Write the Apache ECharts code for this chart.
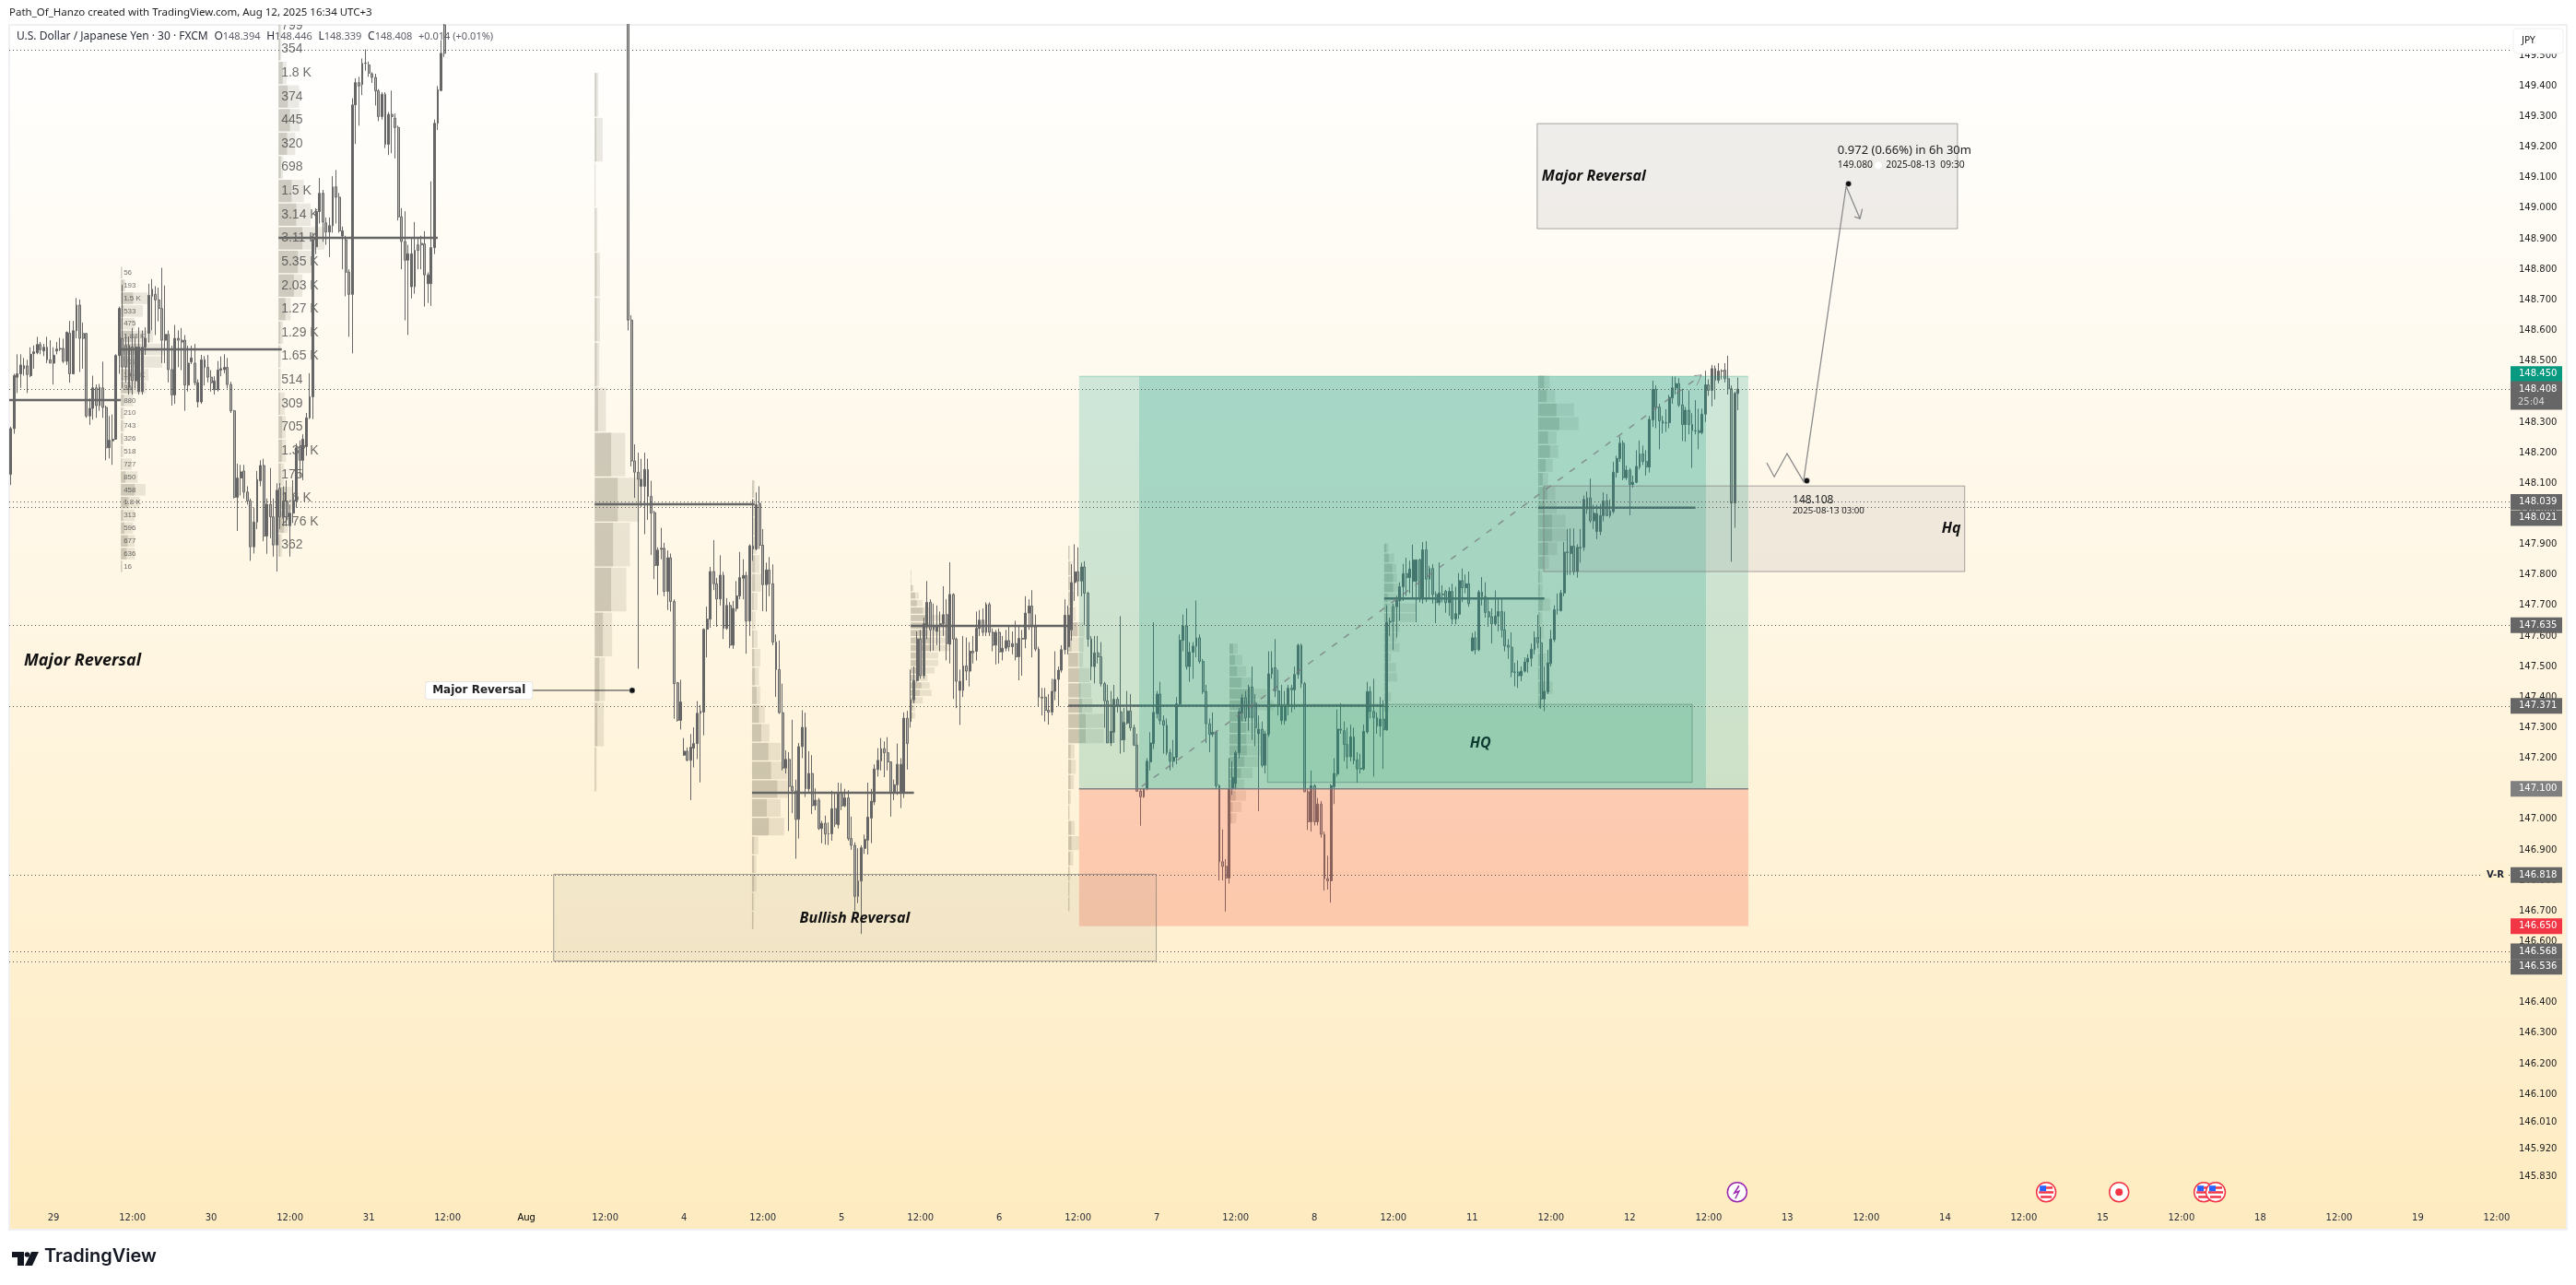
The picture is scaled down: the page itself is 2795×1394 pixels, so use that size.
<!DOCTYPE html>
<html>
<head>
<meta charset="utf-8">
<title>USDJPY 30</title>
<style>html,body{margin:0;padding:0;background:#fff}#chart{width:2795px;height:1394px}</style>
<script src="https://cdn.jsdelivr.net/npm/echarts@6/dist/echarts.min.js"></script>
</head>
<body>
<div id="chart"></div>
<script>
// rows are [open, close, low, high]
var barsJul29to31 = [
[148.129,148.279,148.094,148.285],[148.279,148.452,148.262,148.458],[148.447,148.458,148.395,148.522],[148.458,148.487,148.412,148.522],
[148.485,148.475,148.452,148.510],[148.484,148.456,148.395,148.504],[148.452,148.522,148.447,148.545],[148.524,148.530,148.475,148.551],
[148.527,148.554,148.522,148.579],[148.554,148.537,148.522,148.562],[148.533,148.545,148.516,148.556],[148.545,148.504,148.493,148.579],
[148.504,148.493,148.493,148.568],[148.493,148.519,148.423,148.545],[148.533,148.539,148.522,148.562],[148.539,148.541,148.533,148.576],
[148.541,148.499,148.493,148.573],[148.499,148.594,148.487,148.597],[148.591,148.458,148.429,148.631],[148.458,148.599,148.458,148.631],
[148.599,148.683,148.574,148.706],[148.683,148.574,148.464,148.701],[148.590,148.574,148.475,148.626],[148.590,148.320,148.314,148.591],
[148.320,148.345,148.291,148.377],[148.345,148.412,148.308,148.452],[148.412,148.354,148.314,148.423],[148.354,148.414,148.337,148.425],
[148.412,148.348,148.314,148.498],[148.348,148.216,148.175,148.354],[148.216,148.241,148.181,148.320],[148.239,148.244,148.160,148.325],
[148.244,148.518,148.244,148.522],[148.518,148.672,148.458,148.678],[148.574,148.481,148.412,148.749],[148.551,148.481,148.429,148.585],
[148.412,148.551,148.390,148.580],[148.545,148.435,148.390,148.608],[148.435,148.545,148.410,148.580],[148.400,148.545,148.390,148.610],
[148.400,148.545,148.390,148.600],[148.545,148.574,148.520,148.610],[148.591,148.715,148.560,148.753],[148.735,148.712,148.600,148.768],
[148.718,148.700,148.585,148.745],[148.700,148.672,148.630,148.740],[148.672,148.568,148.493,148.805],[148.568,148.587,148.493,148.747],
[148.587,148.472,148.430,148.600],[148.472,148.389,148.354,148.550],[148.389,148.574,148.360,148.618],[148.574,148.568,148.480,148.600],
[148.568,148.562,148.470,148.608],[148.568,148.421,148.337,148.585],[148.421,148.493,148.400,148.550],[148.497,148.510,148.490,148.550],
[148.493,148.429,148.420,148.556],[148.366,148.429,148.348,148.440],[148.366,148.504,148.360,148.520],[148.504,148.479,148.420,148.516],
[148.479,148.447,148.430,148.520],[148.447,148.429,148.400,148.470],[148.406,148.435,148.390,148.450],[148.406,148.470,148.400,148.500],
[148.470,148.475,148.450,148.515],[148.472,148.479,148.460,148.522],[148.479,148.423,148.410,148.510],[148.423,148.337,148.330,148.432],
[148.337,148.054,148.050,148.340],[148.054,148.117,147.944,148.164],[148.117,148.137,148.060,148.160],[148.140,148.071,148.050,148.160],
[148.071,148.042,148.030,148.090],[148.042,147.892,147.846,148.050],[147.892,147.973,147.870,148.020],[147.973,148.112,147.950,148.140],
[148.108,148.158,148.090,148.175],[148.158,147.927,147.910,148.180],[147.927,148.031,147.869,148.050],[148.031,147.990,147.920,148.150],
[147.990,147.898,147.860,148.050],[147.898,148.077,147.811,148.100],[148.083,147.990,147.950,148.100],[147.990,148.040,147.960,148.090],
[148.040,147.990,147.960,148.110],[147.961,148.002,147.860,148.030],[148.002,148.042,147.970,148.110],[148.042,148.216,148.020,148.230],
[148.220,148.175,148.120,148.240],[148.175,148.244,148.110,148.260],[148.220,148.314,148.190,148.330],[148.314,148.383,148.310,148.460],
[148.383,148.897,148.310,148.920],[148.874,148.989,148.850,149.000],[148.989,149.049,148.950,149.099],[149.049,148.955,148.890,149.060],
[148.952,148.922,148.880,148.970],[148.922,148.943,148.840,148.970],[148.943,149.070,148.920,149.105],[149.070,149.036,148.950,149.125],
[149.036,148.926,148.920,149.050],[148.909,148.926,148.800,148.940],[148.897,148.791,148.712,148.910],[148.791,148.718,148.579,148.800],
[148.718,149.338,148.525,149.360],[149.338,149.411,149.210,149.425],[149.411,149.400,149.270,149.430],[149.405,149.474,149.370,149.490],
[149.474,149.475,149.450,149.520],[149.469,149.442,149.430,149.480],[149.440,149.428,149.410,149.445],[149.428,149.384,149.336,149.440],
[149.384,149.300,149.285,149.390],[149.300,149.373,149.290,149.380],[149.373,149.209,149.197,149.380],[149.209,149.307,149.174,149.315],
[149.307,149.300,149.180,149.385],[149.295,149.264,149.163,149.310],[149.264,148.972,148.960,149.270],[148.972,148.891,148.800,149.000],
[148.891,148.830,148.633,148.990],[148.830,148.851,148.585,148.880],[148.743,148.851,148.705,148.900],[148.743,148.862,148.720,148.955],
[148.880,148.862,148.800,148.905],[148.885,148.880,148.800,148.910],[148.883,148.782,148.678,148.925],[148.753,148.782,148.690,148.790],
[148.753,148.871,148.680,149.088],[148.871,149.278,148.850,149.290],[149.278,149.388,149.256,149.400],[149.385,149.507,149.385,149.550],
[149.600,149.507,149.495,149.700]
];
// bars from Jul 31 to the Aug 1 drop are all above the visible price range
var hiddenBarCount = 55;
var barsAug1to6 = [
[150.200,148.634,148.600,150.300],[148.634,148.173,148.155,148.650],[148.173,148.136,148.052,148.227],[148.136,148.113,147.493,148.200],
[148.090,148.113,148.022,148.180],[148.090,148.145,147.933,148.200],[148.145,148.057,147.980,148.180],[148.057,148.002,147.865,148.108],
[148.004,147.831,147.786,148.010],[147.831,147.881,147.734,147.890],[147.884,147.887,147.851,147.954],[147.887,147.746,147.730,147.905],
[147.746,147.856,147.685,147.880],[147.856,147.713,147.680,147.870],[147.713,147.444,147.329,147.720],[147.447,147.324,147.320,147.450],
[147.324,147.384,147.294,147.457],[147.210,147.223,147.208,147.266],[147.223,147.193,147.190,147.235],[147.193,147.236,147.063,147.279],
[147.233,147.248,147.170,147.301],[147.248,147.347,147.197,147.387],[147.347,147.354,147.121,147.374],[147.351,147.622,147.275,147.625],
[147.622,147.655,147.530,147.696],[147.655,147.811,147.627,147.826],[147.811,147.771,147.750,147.914],[147.771,147.721,147.630,147.790],
[147.721,147.799,147.700,147.864],[147.799,147.625,147.590,147.810],[147.625,147.700,147.620,147.724],[147.700,147.570,147.560,147.711],
[147.570,147.690,147.558,147.715],[147.690,147.731,147.680,147.780],[147.731,147.791,147.720,147.875],[147.789,147.798,147.720,147.851],
[147.798,147.649,147.542,147.810],[147.649,147.895,147.600,147.900],[147.895,147.885,147.846,148.047],[147.885,148.030,147.880,148.070],
[148.034,147.897,147.885,148.090],[147.897,147.768,147.681,147.950],[147.768,147.816,147.680,147.840],[147.816,147.771,147.730,147.858],
[147.771,147.580,147.570,147.834],[147.580,147.490,147.401,147.605],[147.490,147.349,147.345,147.585],[147.349,147.168,147.160,147.444],
[147.168,147.196,147.150,147.226],[147.196,147.108,146.962,147.220],[147.108,147.093,147.020,147.326],[147.093,147.000,146.871,147.130],
[147.000,147.238,146.937,147.250],[147.238,147.301,147.200,147.357],[147.301,147.100,147.073,147.349],[147.100,147.150,147.090,147.223],
[147.150,147.045,147.017,147.210],[147.045,147.063,147.030,147.101],[147.063,146.970,146.965,147.070],[146.970,146.987,146.922,146.995],
[146.987,146.952,146.917,147.012],[146.953,146.952,146.916,146.990],[146.953,147.035,146.930,147.093],[147.035,146.985,146.975,147.090],
[146.982,147.088,146.970,147.120],[147.088,147.044,147.030,147.118],[147.044,147.070,147.040,147.100],[147.070,146.937,146.930,147.095],
[146.937,146.915,146.900,147.009],[146.915,146.748,146.701,146.925],[146.748,146.798,146.726,146.905],[146.798,146.907,146.625,146.915],
[146.905,146.934,146.887,146.950],[146.932,147.007,146.885,147.120],[147.004,147.059,146.922,147.100],[147.057,147.165,147.047,147.180],
[147.163,147.193,147.140,147.233],[147.191,147.231,147.160,147.266],[147.231,147.218,147.138,147.255],[147.218,147.188,147.160,147.269],
[147.188,147.088,147.009,147.190],[147.088,147.113,147.063,147.130],[147.113,147.180,147.080,147.248],[147.090,147.180,147.037,147.200],
[147.088,147.331,147.070,147.350],[147.331,147.248,147.163,147.355],[147.320,147.391,147.300,147.490],[147.391,147.454,147.380,147.500],
[147.454,147.590,147.450,147.615],[147.590,147.470,147.460,147.620],[147.470,147.640,147.460,147.660],[147.630,147.710,147.590,147.780],
[147.710,147.620,147.550,147.720],[147.620,147.630,147.552,147.706],[147.615,147.635,147.570,147.700],[147.635,147.640,147.550,147.680],
[147.640,147.670,147.600,147.763],[147.670,147.575,147.520,147.720],[147.573,147.736,147.510,147.841],[147.736,147.590,147.394,147.740],
[147.590,147.452,147.364,147.595],[147.422,147.452,147.309,147.490],[147.422,147.502,147.400,147.600],[147.502,147.485,147.455,147.595],
[147.485,147.550,147.435,147.580],[147.550,147.545,147.510,147.600],[147.550,147.625,147.520,147.680],[147.625,147.652,147.600,147.685],
[147.652,147.612,147.600,147.690],[147.612,147.703,147.600,147.710],[147.703,147.612,147.600,147.710],[147.612,147.570,147.550,147.625],
[147.570,147.612,147.507,147.620],[147.612,147.548,147.510,147.625],[147.548,147.560,147.520,147.600],[147.560,147.585,147.550,147.620],
[147.585,147.565,147.550,147.630],[147.565,147.575,147.540,147.615],[147.575,147.532,147.520,147.650],[147.532,147.592,147.455,147.630],
[147.590,147.592,147.470,147.620],[147.590,147.675,147.560,147.730],[147.675,147.698,147.620,147.720],[147.698,147.630,147.530,147.750],
[147.630,147.557,147.550,147.670],[147.557,147.400,147.369,147.565],[147.400,147.397,147.340,147.430],[147.400,147.357,147.320,147.430],
[147.357,147.351,147.310,147.410],[147.351,147.419,147.340,147.460],[147.419,147.458,147.390,147.550],[147.458,147.488,147.370,147.500],
[147.488,147.555,147.480,147.570],[147.555,147.668,147.540,147.720]
];
var barsAug6to8 = [
[147.565,147.668,147.540,147.700],[147.620,147.775,147.585,147.835],[147.775,147.810,147.715,147.900],[147.810,147.780,147.730,147.890],
[147.780,147.826,147.730,147.840],[147.826,147.740,147.635,147.845],[147.740,147.590,147.565,147.745],[147.590,147.500,147.455,147.600],
[147.500,147.545,147.445,147.600],[147.545,147.532,147.510,147.600],[147.532,147.444,147.435,147.580],[147.444,147.388,147.300,147.450],
[147.388,147.250,147.250,147.440],[147.250,147.288,147.240,147.420],[147.285,147.393,147.250,147.440],[147.393,147.370,147.350,147.400],
[147.352,147.260,147.215,147.665],[147.260,147.317,147.220,147.365],[147.315,147.355,147.310,147.420],[147.355,147.300,147.290,147.410],
[147.300,147.243,147.240,147.310],[147.243,147.092,147.090,147.280],[147.092,147.074,146.979,147.100],[147.074,147.100,147.070,147.100],
[147.100,147.190,147.095,147.200],[147.188,147.250,147.160,147.285],[147.248,147.350,147.230,147.645],[147.346,147.410,147.330,147.420],
[147.410,147.323,147.310,147.450],[147.323,147.308,147.215,147.340],[147.308,147.218,147.210,147.330],[147.218,147.190,147.160,147.230],
[147.190,147.203,147.170,147.260],[147.203,147.378,147.180,147.400],[147.378,147.586,147.370,147.605],[147.586,147.633,147.550,147.670],
[147.633,147.500,147.490,147.690],[147.500,147.547,147.450,147.580],[147.547,147.567,147.460,147.580],[147.567,147.594,147.530,147.716],
[147.594,147.517,147.510,147.605],[147.517,147.418,147.410,147.525],[147.418,147.313,147.250,147.440],[147.313,147.278,147.220,147.330],
[147.278,147.285,147.270,147.350],[147.285,147.110,147.100,147.290],[147.110,146.861,146.800,147.115],[146.861,146.846,146.800,146.967],
[146.846,146.808,146.698,146.870],[146.808,147.100,146.790,147.200],[147.100,147.137,147.080,147.190],[147.117,147.218,147.100,147.225],
[147.218,147.353,147.200,147.365],[147.348,147.398,147.320,147.410],[147.398,147.333,147.320,147.420],[147.333,147.433,147.290,147.440],
[147.433,147.333,147.260,147.500],[147.380,147.300,147.240,147.410],[147.280,147.295,147.027,147.340],[147.295,147.177,147.170,147.320],
[147.177,147.280,147.150,147.290],[147.278,147.476,147.270,147.550],[147.476,147.496,147.460,147.550],[147.496,147.420,147.400,147.590],
[147.420,147.371,147.340,147.490],[147.323,147.371,147.310,147.440],[147.323,147.371,147.310,147.420],[147.371,147.429,147.340,147.440],
[147.429,147.424,147.350,147.440],[147.424,147.474,147.360,147.500],[147.474,147.570,147.460,147.575],[147.570,147.444,147.430,147.575],
[147.444,147.090,147.090,147.450],[147.090,146.992,146.965,147.100],[146.992,147.110,146.960,147.160],[147.110,146.992,146.980,147.115],
[146.992,147.050,146.980,147.070],[147.050,146.951,146.940,147.060],[146.951,146.806,146.767,146.960],[146.806,146.799,146.770,146.881],
[146.799,147.110,146.727,147.115],[147.107,147.150,147.050,147.200],[147.148,147.295,147.140,147.360],[147.295,147.292,147.280,147.380],
[147.290,147.245,147.190,147.320],[147.245,147.205,147.165,147.300],[147.205,147.270,147.190,147.310],[147.270,147.192,147.180,147.300],
[147.195,147.165,147.120,147.220],[147.165,147.167,147.150,147.215],[147.165,147.288,147.160,147.310],[147.286,147.418,147.280,147.450],
[147.418,147.353,147.330,147.435],[147.353,147.333,147.140,147.460],[147.333,147.305,147.280,147.350],[147.305,147.328,147.270,147.400],
[147.328,147.293,147.165,147.390],[147.293,147.645,147.290,147.700],[147.645,147.648,147.600,147.660]
];
var barsAug8to12 = [
[147.696,147.648,147.555,147.706],[147.696,147.716,147.595,147.731],[147.716,147.761,147.650,147.776],[147.761,147.804,147.715,147.836],
[147.804,147.791,147.731,147.856],[147.791,147.819,147.740,147.846],[147.779,147.849,147.721,147.899],[147.779,147.849,147.645,147.851],
[147.849,147.723,147.710,147.853],[147.723,147.882,147.706,147.907],[147.882,147.786,147.711,147.910],[147.786,147.821,147.720,147.830],
[147.821,147.736,147.706,147.835],[147.736,147.709,147.642,147.746],[147.709,147.741,147.700,147.841],[147.737,147.735,147.710,147.766],
[147.746,147.709,147.676,147.751],[147.709,147.746,147.666,147.760],[147.746,147.656,147.638,147.771],[147.656,147.673,147.638,147.761],
[147.671,147.781,147.656,147.806],[147.781,147.758,147.711,147.821],[147.758,147.771,147.740,147.801],[147.771,147.706,147.696,147.811],
[147.552,147.594,147.550,147.610],[147.594,147.555,147.540,147.615],[147.555,147.744,147.550,147.751],[147.744,147.729,147.700,147.793],
[147.729,147.677,147.660,147.776],[147.679,147.663,147.630,147.720],[147.663,147.640,147.575,147.690],[147.640,147.665,147.635,147.749],
[147.665,147.680,147.615,147.721],[147.680,147.620,147.595,147.726],[147.620,147.568,147.550,147.680],[147.570,147.563,147.525,147.590],
[147.563,147.482,147.465,147.612],[147.482,147.481,147.435,147.512],[147.482,147.470,147.430,147.520],[147.470,147.485,147.452,147.500],
[147.485,147.515,147.480,147.530],[147.515,147.527,147.480,147.540],[147.527,147.557,147.500,147.575],[147.555,147.595,147.540,147.615],
[147.595,147.578,147.560,147.669],[147.578,147.394,147.362,147.630],[147.394,147.419,147.354,147.500],[147.417,147.512,147.410,147.555],
[147.510,147.590,147.500,147.620],[147.588,147.686,147.580,147.700],[147.686,147.685,147.670,147.739],[147.683,147.741,147.680,147.751],
[147.741,147.874,147.730,147.907],[147.873,147.875,147.800,147.950],[147.870,147.894,147.800,147.952],[147.894,147.811,147.800,147.952],
[147.811,147.890,147.791,147.900],[147.888,147.890,147.840,147.950],[147.890,148.047,147.879,148.060],[148.015,148.052,148.000,148.073],
[148.052,147.977,147.970,148.115],[147.977,148.002,147.950,148.030],[147.942,148.000,147.917,148.030],[147.942,147.994,147.930,148.032],
[147.994,148.042,147.975,148.070],[148.042,147.994,147.992,148.065],[147.994,148.009,147.987,148.047],[148.007,148.136,148.000,148.170],
[148.135,148.181,148.118,148.190],[148.181,148.231,148.170,148.253],[148.231,148.118,148.110,148.240],[148.118,148.143,148.110,148.158],
[148.143,148.096,147.995,148.150],[148.096,148.103,148.086,148.125],[148.103,148.155,148.100,148.208],[148.153,148.196,148.145,148.240],
[148.196,148.171,148.160,148.223],[148.171,148.153,148.125,148.208],[148.153,148.309,148.135,148.320],[148.307,148.407,148.284,148.436],
[148.407,148.349,148.280,148.420],[148.349,148.304,148.211,148.360],[148.304,148.296,148.263,148.320],[148.297,148.298,148.268,148.342],
[148.298,148.381,148.280,148.389],[148.379,148.412,148.360,148.449],[148.412,148.426,148.390,148.449],[148.426,148.356,148.350,148.444],
[148.356,148.292,148.238,148.409],[148.292,148.339,148.236,148.350],[148.339,148.292,148.260,148.404],[148.292,148.272,148.150,148.329],
[148.272,148.271,148.260,148.372],[148.272,148.266,148.211,148.344],[148.266,148.326,148.260,148.344],[148.326,148.422,148.300,148.468],
[148.422,148.404,148.386,148.440],[148.404,148.475,148.352,148.487],[148.475,148.437,148.374,148.485],[148.437,148.467,148.427,148.493],
[148.468,148.467,148.440,148.473],[148.470,148.442,148.430,148.493],[148.442,148.409,148.390,148.517],[148.409,148.035,147.843,148.420],
[148.035,148.394,147.954,148.400],[148.394,148.408,148.339,148.446]
];

// tick labels of the two axes
var timeLabels = ['29','12:00','30','12:00','31','12:00','Aug','12:00','4','12:00','5','12:00','6','12:00','7','12:00','8','12:00','11','12:00','12','12:00','13','12:00','14','12:00','15','12:00','18','12:00','19','12:00'];
var priceTicks = [149.5,149.4,149.3,149.2,149.1,149,148.9,148.8,148.7,148.6,148.5,148.4,148.3,148.2,148.1,148,147.9,147.8,147.7,147.6,147.5,147.4,147.3,147.2,147.1,147,146.9,146.8,146.7,146.6,146.5,146.4,146.3,146.2,146.1,146.01,145.92,145.83];

// volume profiles, widths are in bars: total width and the darker part of it
var profile1Total = [.5,1.4,8.2,6.7,4.2,9.8,13.1,12.6,8.4,7.7,3.7,1.1,1.1,.9,.9,3.3,5.1,7.5,5.6,4.2,3.7,4.2,4.2,.5];
var profile1Dark = [.3,.9,3.7,.9,.5,3.7,6,2.3,3.7,3.7,.9,.5,.5,.5,.3,.3,1.4,4.2,2.3,.7,1.1,2.1,1.7,.3];
var profile1Labels = ['56','193','1.5 K','533','475','1.88 K','2.6 K','702','1.64 K','35','880','210','743','326','518','727','850','458','1.8 K','313','596','677','636','16'];
var profile2Total = [.9,.9,2.5,6.3,6.5,5.1,1.4,7.7,9.8,14,10.8,7.3,3.7,1.4,.7,.7,1.9,2.2,2.3,1.7,4.2,2.8,1.1];
var profile2Dark = [.4,.5,1.3,2.8,3.5,2.6,.7,4,5.4,7.3,5.9,4.7,2.1,.6,.3,.3,.5,1.1,1.1,.7,2.1,1.7,.5];
var profile2Labels = ['799','354','1.8 K','374','445','320','698','1.5 K','3.14 K','3.11 K','5.35 K','2.03 K','1.27 K','1.29 K','1.65 K','514','309','705','1.37 K','175','1.6 K','2.76 K','362'];
var profile3Total = [1.1,2.4,.3,.8,1.6,1.6,1.4,3.4,9.3,13.5,10.7,9.6,5.3,3.1,2.8,.6];
var profile3Dark = [.5,.5,.1,.3,.6,.6,.6,1,5,7,5.6,5,2.5,1.4,.8,.3];
var profile4Total = [.9,.9,1.1,1.4,2.3,2.8,1.7,1.1,1.7,2.5,2.1,2.5,3.9,5.3,8.7,10.8,11,8.7,9.8,1.9,1.3,1.3,.7,.6];
var profile4Dark = [.5,.5,.5,.5,.9,.9,.5,.2,.5,.7,.9,1.4,2.1,2.8,5,5.8,7.7,4.5,5.1,.6,.6,.6,.3,.3];
var profile5Total = [.2,.2,.9,2.5,3.7,6.5,9.8,10.8,12.2,11.7,11.7,8.4,8.4,7.3,5.1,5.8,6.4,3.7,1.4,1.4];
var profile5Dark = [.1,.1,.5,1.4,1.9,3.7,5.1,5.6,5.1,6.1,6.1,3.4,3.4,3,1.4,3.3,2.8,1.4,.5,.5];
var profile6Total = [.6,1.2,1.4,1.7,2.3,5,4.7,4.5,6.5,7,7.3,10.8,10.8,1.9,2.3,1.7,.8,.5,2,3.3,1.5,.6,.5,.5];
var profile6Dark = [.3,.5,.5,.9,.9,2.8,1,3,3.3,3.7,4.2,5.3,5.3,.7,.9,.7,.3,.2,.9,1,.6,.3,.2,.2];
var profile7Total = [2.5,3.9,5.1,6.7,11.2,13.4,8.4,9.4,10.3,11.2,8.9,7,4.5,5.1,3.6,2.1];
var profile7Dark = [1.1,1.7,2.3,3.7,5.6,5.8,5.1,5.1,5.1,5.3,4.5,3.5,2.3,1.9,.9,.7];
var profile8Total = [1.3,3,3.7,3.9,4.7,5.6,9.8,9.4,4.7,3.9,4.7,2.1,3.6,3.9,.7,2.1,1.4];
var profile8Dark = [.7,1.4,2.5,2.7,2.8,1.1,1.1,1.1,.9,.7,.9,.6,.6,.6,.3,.7,.6];
var profile9Total = [3.5,5.2,10.9,12.3,5.6,6.1,4.4,3,5.2,5.6,8.3,8.6,5.8,3.3,1.3,1.3,3.7,1.3,1.6,.5,2.5,.9,4.4,1.3];
var profile9Dark = [1.9,2.6,5.6,6.4,3,3.6,2.3,1.4,2.8,1.9,4.2,4.2,3,1.6,.5,.5,1.4,.5,.6,.2,1,.4,1.7,.5];

var levelPrices = [149.52,148.408,148.039,148.021,147.635,147.371,146.818,146.568,146.536];
var eventBars = [525.7,619.8,642,667.8,671.4];

var barCount = 762;
var categories = [];
for (var n = 0; n < barCount; n++) categories.push((n - 13) % 24 === 0 ? timeLabels[(n - 13) / 24] || '' : '');
var candles = barsJul29to31.concat(new Array(hiddenBarCount).fill('-'), barsAug1to6, barsAug6to8, barsAug8to12);

var profiles = [
    {bar: 33.5, top: 148.808, step: .0418, total: profile1Total, dark: profile1Dark, labels: profile1Labels, font: 8},
    {bar: 81.5, top: 149.634, step: .0773, total: profile2Total, dark: profile2Dark, labels: profile2Labels, font: 14},
    {bar: 177.8, top: 149.443, step: .1472, total: profile3Total, dark: profile3Dark},
    {bar: 225.7, top: 148.110, step: .0614, total: profile4Total, dark: profile4Dark},
    {bar: 274, top: 147.816, step: .0245, total: profile5Total, dark: profile5Dark},
    {bar: 322, top: 147.895, step: .05, total: profile6Total, dark: profile6Dark},
    {bar: 371.1, top: 147.575, step: .037, total: profile7Total, dark: profile7Dark},
    {bar: 418.2, top: 147.902, step: .0325, total: profile8Total, dark: profile8Dark},
    {bar: 465.1, top: 148.452, step: .0455, total: profile9Total, dark: profile9Dark}
];
var profileRows = [];
profiles.forEach(function (p) {
    p.total.forEach(function (w, r) {
        profileRows.push({bar: p.bar, top: p.top - r * p.step, bottom: p.top - (r + 1) * p.step + .004, total: w, dark: p.dark[r], label: p.labels && p.labels[r], font: p.font});
    });
});

// point of control lines [from bar, to bar, price]
var pocLines = [[-.5,33.5,148.372],[33.5,82.5,148.538],[81.5,130,148.903],[177.8,226.5,148.031],[225.7,275,147.087],[274,322,147.633],[322,418.2,147.372],[418.2,467,147.723],[465.1,513,148.020]];

var GREY_FILL = 'rgba(120,123,134,.12)', GREY_EDGE = 'rgba(110,110,110,.6)';
var boxes = [
    {x0: 325.3, x1: 529.1, top: 148.450, bottom: 147.100, fill: 'rgba(8,153,129,.2)'},
    {x0: 343.6, x1: 516.2, top: 148.450, bottom: 147.100, fill: 'rgba(8,153,129,.2)'},
    {x0: 325.3, x1: 529.1, top: 147.100, bottom: 146.650, fill: 'rgba(247,82,60,.25)'},
    {x0: 382.7, x1: 512, top: 147.376, bottom: 147.121, fill: 'rgba(40,160,100,.12)', stroke: 'rgba(70,120,100,.5)'},
    {x0: 466.8, x1: 595, top: 148.091, bottom: 147.811, fill: GREY_FILL, stroke: GREY_EDGE},
    {x0: 464.8, x1: 592.8, top: 149.277, bottom: 148.933, fill: GREY_FILL, stroke: GREY_EDGE},
    {x0: 165.3, x1: 348.8, top: 146.820, bottom: 146.536, fill: 'rgba(120,120,100,.09)', stroke: GREY_EDGE}
];

var polylines = [
    {pts: [[325.3,147.1],[529.1,147.1]], color: 'rgba(120,120,125,.9)', width: 1.5},
    {pts: [[325.3,148.45],[529.1,148.45]], color: 'rgba(8,153,129,.3)', width: 1},
    {pts: [[344.4,147.108],[514.8,148.454]], color: 'rgba(120,120,125,.75)', width: 1.5, dash: [7, 9]},
    {pts: [[512.6,148.452],[514.8,148.454],[513.4,148.42]], color: 'rgba(120,120,125,.75)', width: 1},
    {pts: [[534.7,148.167],[537,148.121],[540.9,148.197],[545.9,148.106],[558.9,149.072],[563.1,148.966]], color: '#8a8a8a', width: 1.3},
    {pts: [[561.4,148.972],[563.1,148.966],[563.8,148.998]], color: '#8a8a8a', width: 1.3},
    {pts: [[156,147.422],[189.2,147.422]], color: '#333', width: 1}
];
var dots = [[546.9,148.108],[559.6,149.08],[189.2,147.422]];

var ITALIC = 'italic bold 16px "Open Sans"';
var notes = [
    {bar: 4, price: 147.519, text: 'Major Reversal', font: 'italic bold 18px "Open Sans"'},
    {bar: 240.2, price: 146.675, text: 'Bullish Reversal', font: ITALIC},
    {bar: 444.3, price: 147.25, text: 'HQ', font: ITALIC, color: '#0d3a30'},
    {bar: 588, price: 147.95, text: 'Hq', font: ITALIC},
    {bar: 466.2, price: 149.105, text: 'Major Reversal', font: ITALIC},
    {bar: 542.6, price: 148.044, text: '148.108', font: '12px "Noto Sans"', color: '#222'},
    {bar: 542.6, price: 148.008, text: '2025-08-13 03:00', font: '9.7px "Noto Sans"', color: '#222'},
    {bar: 556.3, price: 149.188, text: '0.972 (0.66%) in 6h 30m', font: '13px "Noto Sans"', color: '#222'},
    {bar: 556.3, price: 149.140, text: '149.080', font: '10.3px "Noto Sans"', color: '#222'},
    {bar: 567.4, price: 149.141, text: '●', font: '10px "DejaVu Sans"', color: '#ffffff'},
    {bar: 571, price: 149.140, text: '2025-08-13  09:30', font: '10.3px "Noto Sans"', color: '#222'},
    {bar: 752.8, price: 146.818, text: 'V-R', font: 'bold 10px "DejaVu Sans"', color: '#1c2030', bg: '#fff0cf', pad: [1, 4]},
    {bar: 126.4, price: 147.422, text: 'Major Reversal', font: 'bold 12px "DejaVu Sans"', color: '#222', bg: '#fff', pad: [3, 7], border: '#e6e6e6'}
];

var priceTags = [
    {price: 148.450, text: '148.450', color: '#089981', dy: -2.5},
    {price: 148.408, text: '148.408', color: '#666666', sub: '25:04'},
    {price: 148.039, text: '148.039', color: '#666666'},
    {price: 148.021, text: '148.021', color: '#666666', dy: 11.5},
    {price: 147.635, text: '147.635', color: '#666666'},
    {price: 147.371, text: '147.371', color: '#666666'},
    {price: 147.100, text: '147.100', color: '#808080'},
    {price: 146.818, text: '146.818', color: '#666666'},
    {price: 146.650, text: '146.650', color: '#f23645'},
    {price: 146.568, text: '146.568', color: '#666666'},
    {price: 146.536, text: '146.536', color: '#666666', dy: 6}
];

// a custom series on the hidden bar-number axis, one drawing per item
function overlay(name, items, z, draw, noClip) {
    return {
        name: name, type: 'custom', xAxisIndex: 1, yAxisIndex: 0, z: z, silent: true, clip: !noClip,
        data: items.map(function (_, i) { return [i, 147]; }),
        renderItem: function (params, api) {
            return draw(items[params.dataIndex], api, params);
        }
    };
}
function rectOf(x0, x1, top, bottom, api) {
    var a = api.coord([x0, top]), b = api.coord([x1, bottom]);
    return {x: a[0], y: a[1], width: b[0] - a[0], height: b[1] - a[1]};
}

var chart = echarts.init(document.getElementById('chart'));
chart.setOption({
    animation: false,
    grid: {left: 10, top: 27, width: 2715, height: 1307},
    xAxis: [
        {
            type: 'category', data: categories, boundaryGap: true,
            axisLine: {show: false}, axisTick: {show: false}, splitLine: {show: false},
            axisLabel: {
                inside: true, margin: 8, interval: 0, fontFamily: 'DejaVu Sans', fontSize: 10,
                color: function (v) { return v === 'Aug' ? '#000' : '#2a2e39'; },
                fontWeight: 'normal'
            }
        },
        {type: 'value', min: -.5, max: barCount - .5, show: false}
    ],
    yAxis: {
        type: 'value', position: 'right', min: 145.657, max: 149.600,
        axisLine: {show: false}, axisTick: {show: false}, splitLine: {show: false},
        axisLabel: {
            customValues: priceTicks, margin: 8, fontFamily: 'DejaVu Sans', fontSize: 10, color: '#222',
            formatter: function (v) { return v.toFixed(3); }
        }
    },
    graphic: [
        {type: 'rect', z: -10, silent: true, shape: {x: 10, y: 27, width: 2775, height: 1307},
            style: {stroke: '#f0f0f2', lineWidth: 2,
                fill: {type: 'linear', x: 0, y: 0, x2: 0, y2: 1, colorStops: [{offset: 0, color: '#ffffff'}, {offset: .5, color: '#fff6e3'}, {offset: 1, color: '#feebc0'}]}}},
        // header band: candles above the pane stop at its top edge
        {type: 'rect', z: 15, silent: true, shape: {x: 0, y: 0, width: 2795, height: 26}, style: {fill: '#ffffff'}},
        {type: 'text', x: 10, y: 8, z: 20, style: {text: 'Path_Of_Hanzo created with TradingView.com, Aug 12, 2025 16:34 UTC+3', font: '11.5px "Noto Sans"', fill: '#222'}},
        {type: 'text', x: 18, y: 34, z: 20, style: {
            text: '{a|U.S. Dollar / Japanese Yen · 30 · FXCM}  {a|O}{b|148.394}  {a|H}{b|148.446}  {a|L}{b|148.339}  {a|C}{b|148.408}  {b|+0.014 (+0.01%)}',
            rich: {a: {font: '12px "Noto Sans"', fill: '#2a2e39'}, b: {font: '11px "Noto Sans"', fill: '#5d6068'}}}},
        {type: 'rect', z: 20, shape: {x: 2727, y: 31, width: 54, height: 27, r: 4}, style: {fill: '#fff', stroke: '#f0f0f2'}},
        {type: 'text', x: 2736, y: 39, z: 21, style: {text: 'JPY', font: '10px "DejaVu Sans"', fill: '#222'}},
        {type: 'polygon', z: 20, shape: {points: [[13,1358],[26,1358],[26,1373],[19,1373],[19,1364],[13,1364]]}, style: {fill: '#131722'}},
        {type: 'circle', z: 20, shape: {cx: 29.5, cy: 1361, r: 2.8}, style: {fill: '#131722'}},
        {type: 'polygon', z: 20, shape: {points: [[34,1358],[42,1358],[35,1373],[27,1373]]}, style: {fill: '#131722'}},
        {type: 'text', x: 48, y: 1353, z: 20, style: {text: 'TradingView', font: '600 20px "Inter"', fill: '#131722'}}
    ],
    series: [
        overlay('profiles', profileRows, 1, function (r, api) {
            var kids = [
                {type: 'rect', shape: rectOf(r.bar, r.bar + r.total, r.top, r.bottom, api), style: {fill: 'rgba(95,90,70,.13)'}},
                {type: 'rect', shape: rectOf(r.bar, r.bar + r.dark, r.top, r.bottom, api), style: {fill: 'rgba(95,90,70,.2)'}}
            ];
            if (r.label) {
                var p = api.coord([r.bar, (r.top + r.bottom) / 2]);
                kids.push({type: 'text', x: p[0] + 3, y: p[1], style: {text: r.label, font: r.font + 'px "Liberation Sans"', fill: 'rgba(60,60,60,.75)', verticalAlign: 'middle'}});
            }
            return {type: 'group', children: kids};
        }),
        {
            name: 'USDJPY', type: 'candlestick', xAxisIndex: 0, yAxisIndex: 0, z: 2, data: candles, barWidth: 2.4, silent: true, progressive: 0,
            itemStyle: {color: '#666666', color0: '#b3b1a9', borderColor: '#666666', borderColor0: '#666666', borderWidth: 1}
        },
        overlay('poc', pocLines, 3, function (l, api) {
            var a = api.coord([l[0], l[2]]), b = api.coord([l[1], l[2]]);
            return {type: 'line', shape: {x1: a[0], y1: a[1], x2: b[0], y2: b[1]}, style: {stroke: '#666', lineWidth: 2.5}};
        }),
        overlay('boxes', boxes, 4, function (b, api) {
            return {type: 'rect', shape: rectOf(b.x0, b.x1, b.top, b.bottom, api), style: {fill: b.fill, stroke: b.stroke || null, lineWidth: 1}};
        }),
        overlay('levels', levelPrices, 5, function (price, api) {
            var a = api.coord([-.5, price]), b = api.coord([barCount - .5, price]);
            return {type: 'line', shape: {x1: a[0], y1: Math.round(a[1]) + .5, x2: b[0], y2: Math.round(a[1]) + .5}, style: {stroke: '#555', lineWidth: 1, lineDash: [1, 3]}};
        }),
        overlay('paths', polylines, 6, function (l, api) {
            return {type: 'polyline', shape: {points: l.pts.map(function (p) { return api.coord(p); })}, style: {fill: null, stroke: l.color, lineWidth: l.width, lineDash: l.dash || null}};
        }),
        overlay('dots', dots, 6, function (d, api) {
            var p = api.coord(d);
            return {type: 'circle', shape: {cx: p[0], cy: p[1], r: 3.2}, style: {fill: '#111', stroke: '#fff', lineWidth: .5}};
        }),
        overlay('notes', notes, 7, function (t, api) {
            var p = api.coord([t.bar, t.price]);
            return {type: 'text', x: p[0], y: p[1], style: {text: t.text, font: t.font, fill: t.color || '#111', verticalAlign: 'middle', backgroundColor: t.bg || null, padding: t.pad || 0, borderColor: t.border || null, borderWidth: t.border ? 1 : 0, borderRadius: t.border ? 2 : 0}};
        }),
        overlay('events', eventBars, 7, function (bar, api, params) {
            var p = api.coord([bar, 145.78]), i = params.dataIndex;
            var ring = i === 0 ? '#9c27b0' : '#f23645', kids = [
                {type: 'circle', shape: {cx: p[0], cy: p[1], r: 10.5}, style: {fill: '#fff', stroke: ring, lineWidth: 1.5}}
            ];
            if (i === 0) {
                kids.push({type: 'polyline', shape: {points: [[p[0] + 2, p[1] - 7], [p[0] - 3, p[1] + 1], [p[0] + 2, p[1] - 1], [p[0] - 2, p[1] + 7]]}, style: {fill: null, stroke: ring, lineWidth: 1.5}});
            } else if (i === 2) {
                kids.push({type: 'circle', shape: {cx: p[0], cy: p[1], r: 4}, style: {fill: ring}});
            } else {
                kids.push({type: 'rect', shape: {x: p[0] - 8, y: p[1] - 1, width: 16, height: 2.5}, style: {fill: ring}});
                kids.push({type: 'rect', shape: {x: p[0] - 6, y: p[1] + 4, width: 12, height: 2.5}, style: {fill: ring}});
                kids.push({type: 'rect', shape: {x: p[0] - 7, y: p[1] - 7, width: 7, height: 6}, style: {fill: '#2962ff'}});
                kids.push({type: 'rect', shape: {x: p[0], y: p[1] - 6, width: 7, height: 2.5}, style: {fill: ring}});
            }
            return {type: 'group', children: kids};
        }),
        overlay('tags', priceTags, 8, function (t, api, params) {
            var y = api.coord([0, t.price])[1] + (t.dy || 0), x = params.coordSys.x + params.coordSys.width - 1;
            var kids = [
                {type: 'rect', shape: {x: x, y: y - 8.5, width: 56, height: t.sub ? 31 : 17}, style: {fill: t.color}},
                {type: 'text', x: x + 9, y: y, style: {text: t.text, font: '10px "DejaVu Sans"', fill: '#fff', verticalAlign: 'middle'}}
            ];
            if (t.sub) kids.push({type: 'text', x: x + 8, y: y + 14, style: {text: t.sub, font: '10px "DejaVu Sans"', fill: '#d8d8d8', verticalAlign: 'middle'}});
            return {type: 'group', children: kids};
        }, true)
    ]
});
</script>
</body>
</html>
